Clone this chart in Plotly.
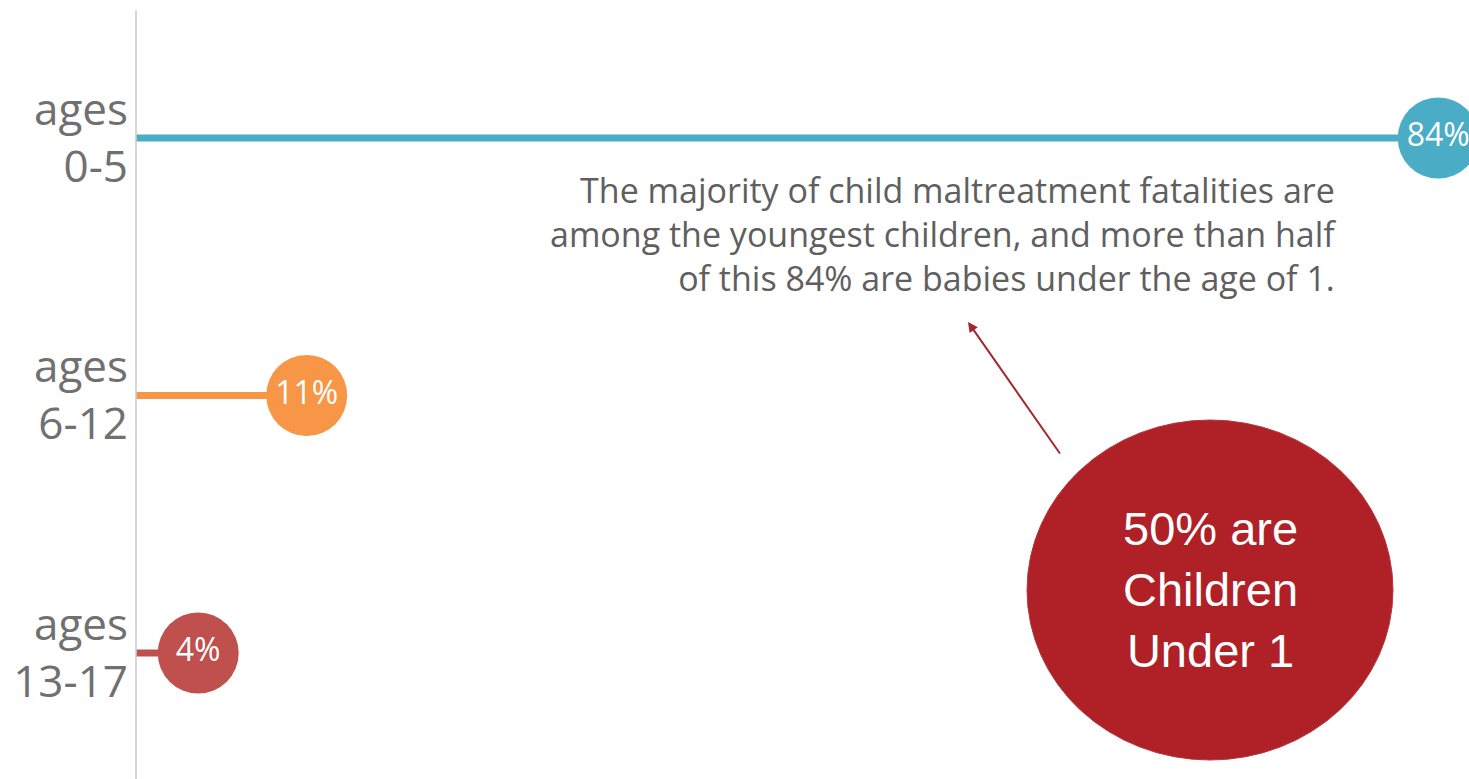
import plotly.graph_objects as go

categories = ["ages<br>0-5", "ages<br>6-12", "ages<br>13-17"]
values = [84, 11, 4]
labels = ["84%", "11%", "4%"]
colors = ["#4BACC6", "#F79646", "#C0504D"]

W, H = 1469, 779


def px(x):
    return x / W


def py(y):
    return 1 - y / H


X0 = 136            # value-axis origin, pixels
SCALE = 15.5        # pixels per percentage point
ROW0, ROWSTEP = 138, 257.5

fig = go.Figure()
for cat, v, c in zip(categories, values, colors):
    fig.add_trace(go.Scatter(x=[0, v], y=[cat, cat], mode="lines",
                             line=dict(color=c, width=7), hoverinfo="skip",
                             showlegend=False, cliponaxis=False))
for cat, v, c, t in zip(categories, values, colors, labels):
    fig.add_trace(go.Scatter(x=[v], y=[cat], mode="markers+text", text=[t],
                             textposition="middle center",
                             textfont=dict(color="white", size=32, family="Open Sans"),
                             marker=dict(color=c, size=81, line=dict(width=0)),
                             showlegend=False, cliponaxis=False))

fig.update_layout(
    width=W, height=H, margin=dict(l=0, r=0, t=0, b=0),
    paper_bgcolor="white", plot_bgcolor="white",
    xaxis=dict(domain=[X0 / W, 1], range=[-0.2 / SCALE, (W - X0 - 0.2) / SCALE],
               visible=False, showgrid=False, zeroline=False),
    yaxis=dict(type="category", categoryarray=categories,
               range=[(H - ROW0) / ROWSTEP, -ROW0 / ROWSTEP],
               showgrid=False, zeroline=False, showline=False, ticks="",
               tickfont=dict(size=44, color="#707070", family="Open Sans"),
               automargin=False, ticklabelstandoff=7),
    shapes=[
        dict(type="line", xref="paper", yref="paper", x0=px(136), x1=px(136),
             y0=py(10), y1=0, line=dict(color="#C8C8C8", width=1.5)),
        dict(type="circle", xref="paper", yref="paper",
             x0=px(1027), x1=px(1393), y0=py(420), y1=py(760),
             fillcolor="#AF2027", line=dict(color="#B3373C", width=1), layer="above"),
    ],
    annotations=[
        dict(xref="paper", yref="paper", x=px(1338), y=py(234),
             xanchor="right", yanchor="middle", align="right", showarrow=False,
             text="The majority of child maltreatment fatalities are<br>"
                  "among the youngest children, and more than half<br>"
                  "of this 84% are babies under the age of 1.",
             font=dict(size=34, color="#5F5F5F", family="Open Sans")),
        dict(xref="paper", yref="paper", x=px(968), y=py(322),
             ax=93, ay=133, text="", showarrow=True, arrowhead=2,
             arrowsize=1, arrowwidth=2, arrowcolor="#A3282B"),
        dict(xref="paper", yref="paper", x=px(1210), y=py(589),
             xanchor="center", yanchor="middle", align="center", showarrow=False,
             text="50% are<br>Children<br>Under 1",
             font=dict(size=47, color="white", family="Liberation Sans")),
    ],
)

fig.write_html(
    "out.html",
    config={"displayModeBar": False},
    post_script="document.body.style.margin='0';document.body.style.overflow='hidden';",
)
